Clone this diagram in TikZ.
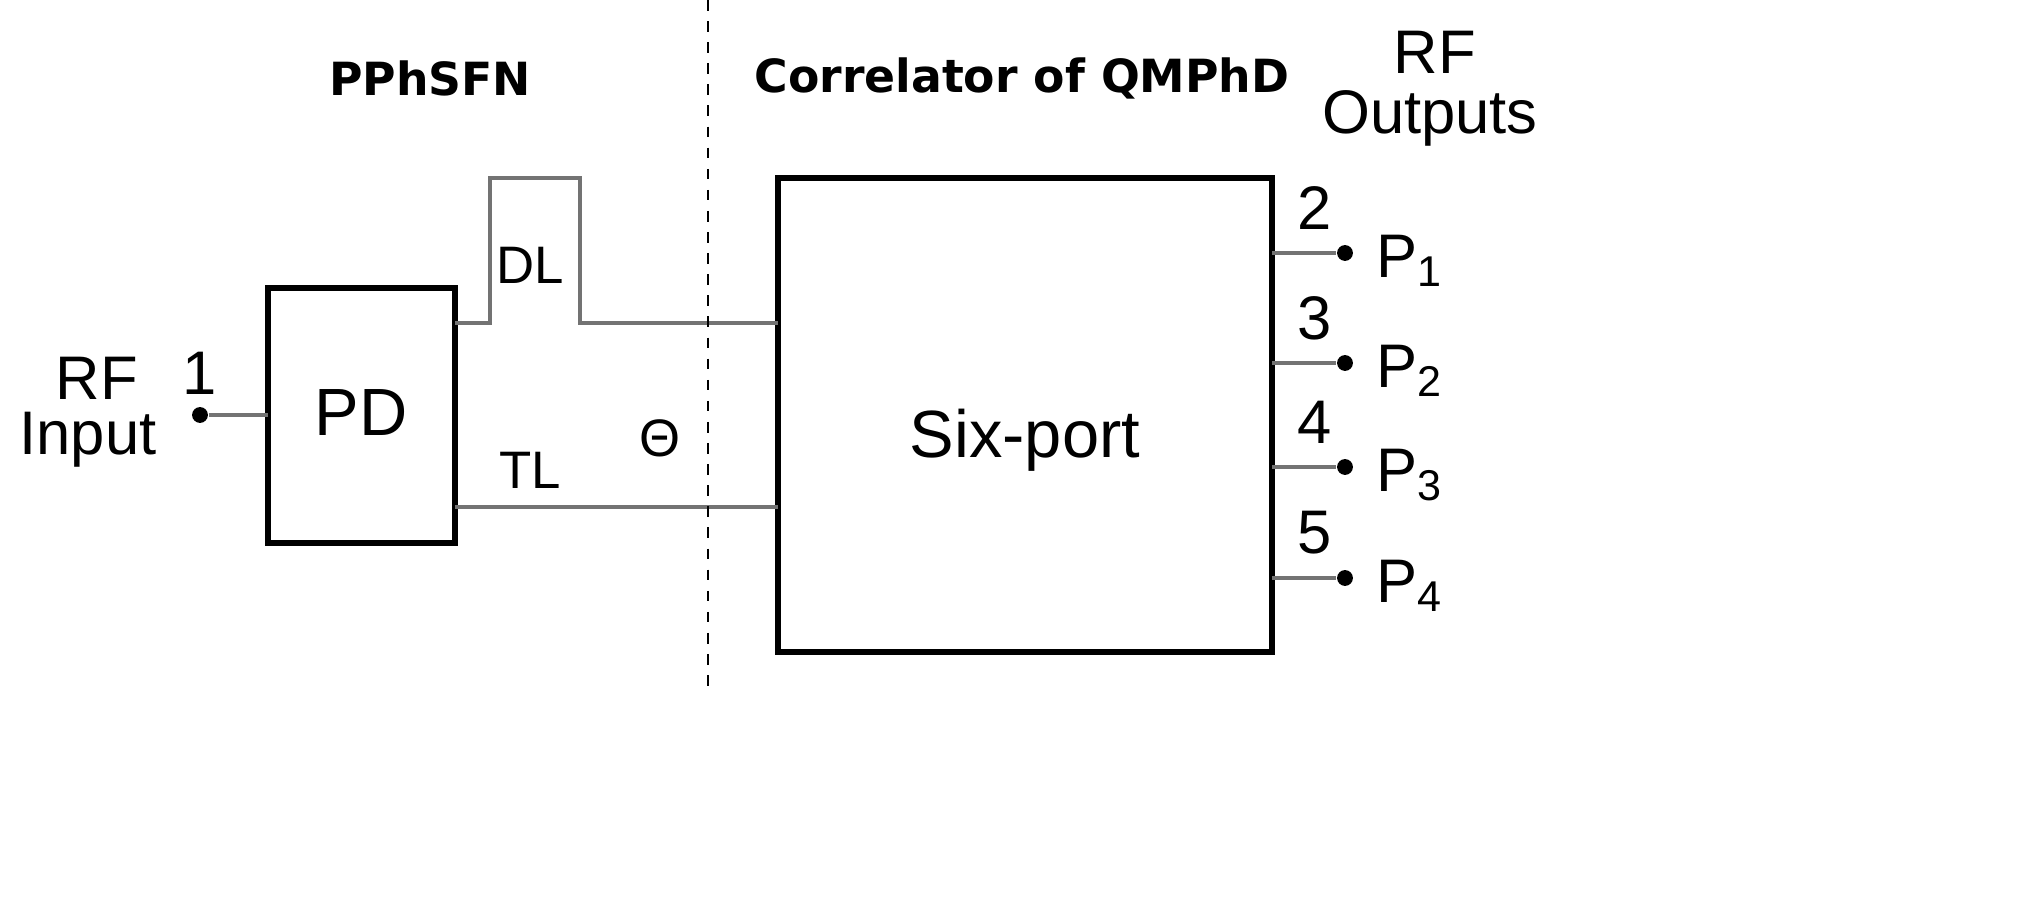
\documentclass[tikz,border=0pt]{standalone}
\usepackage{fontspec}
\setmainfont{Liberation Sans}
\newfontfamily\ttlfont{DejaVu Sans}
\begin{document}
\begin{tikzpicture}[x=0.01cm,y=-0.01cm,
 box/.style={draw,line width=1.5pt},
 wire/.style={draw=gray!90!black,line width=1pt},
 dot/.style={circle,fill,inner sep=0pt,minimum size=4.5pt},
 big/.style={font=\fontsize{17.5}{19}\selectfont},
 mid/.style={font=\fontsize{15}{17}\selectfont},
 ttl/.style={font=\fontsize{13}{15}\selectfont\ttlfont\bfseries}]
\useasboundingbox (0,0) rectangle (2029,922);
\node[box,minimum width=187*0.01cm,minimum height=255*0.01cm] (pd) at (361.5,415.5) {};
\node[font=\fontsize{19}{21}\selectfont] (pdl) at (361,413) {PD};
\node[box,minimum width=494*0.01cm,minimum height=474*0.01cm] (sp) at (1025,415) {};
\node[font=\fontsize{19}{21}\selectfont] (spl) at (1025,440) {Six-port};
\coordinate (dla) at (455,323); \coordinate (dlb) at (778,323);
\draw[wire] (dla) -- (490,323) -- (490,178) -- (580,178) -- (580,323) -- (dlb);
\coordinate (tla) at (455,507); \coordinate (tlb) at (778,507);
\draw[wire] (tla) -- (tlb);
\node[dot] (in) at (200,415) {};
\coordinate (pdin) at (268,415);
\draw[wire] (in) -- (pdin);
\draw[dashed,line width=0.8pt] (708,0) -- (708,690);
\foreach \n/\y/\k in {2/253/1,3/363/2,4/467/3,5/578/4}{
 \node[dot] (o\n) at (1345,\y) {};
 \coordinate (s\n) at (1272,\y);
 \draw[wire] (s\n) -- (o\n);
 \node[big] (n\n) at (1315,\y-45) {\n};
 \node[big] (p\n) at (1410,\y+8) {P\textsubscript{\k}};
}
\node[ttl] (t1) at (430,78) {PPhSFN};
\node[ttl] (t2) at (1022,78) {Correlator of QMPhD};
\node[big] (rfo) at (1435,52) {RF};
\node[big] (out) at (1430,118) {Outputs};
\node[big] (rfi) at (97,378) {RF};
\node[big] (inp) at (88,440) {Input};
\node[big] (one) at (200,373) {1};
\node[mid] (dl) at (530,265) {DL};
\node[mid] (tl) at (530,470) {TL};
\node[mid] (th) at (660,438) {Θ};
\end{tikzpicture}
\end{document}
